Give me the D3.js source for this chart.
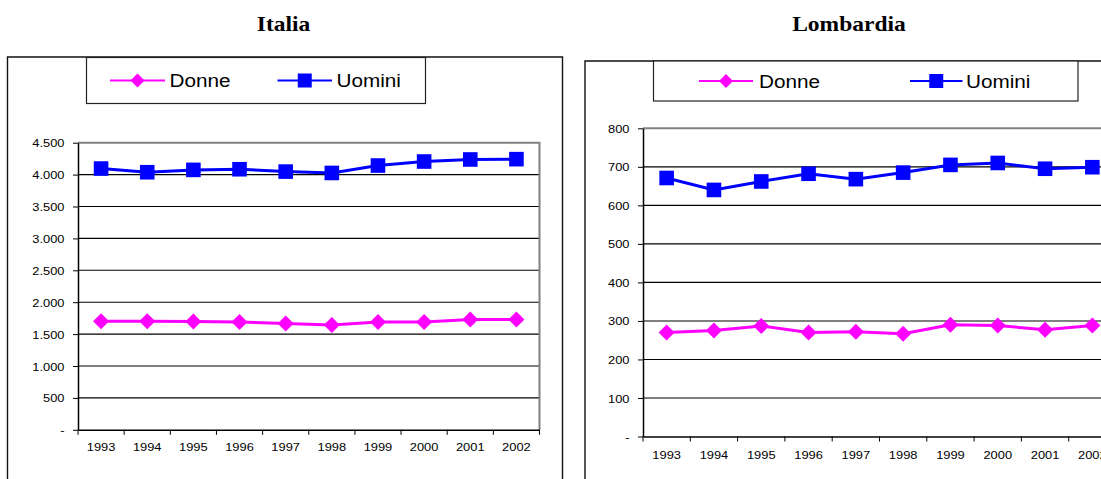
<!DOCTYPE html>
<html>
<head>
<meta charset="utf-8">
<script src="https://cdn.jsdelivr.net/npm/d3@7"></script>
<style>
  html, body { margin: 0; padding: 0; background: #fff; }
  svg { display: block; }
</style>
</head>
<body>
<svg id="chart" width="1101" height="479"></svg>
<script>
// Anni sull'asse orizzontale
const years = ["1993", "1994", "1995", "1996", "1997", "1998", "1999", "2000", "2001", "2002"];
const seriesNames = ["Donne", "Uomini"];
const panelTitles = ["Italia", "Lombardia"];

// Italia
const italiaDonne  = [1703, 1703, 1698, 1688, 1667, 1641, 1688, 1688, 1729, 1729];
const italiaUomini = [4095, 4037, 4074, 4084, 4047, 4026, 4142, 4205, 4237, 4242];
const italiaTicks  = [0, 500, 1000, 1500, 2000, 2500, 3000, 3500, 4000, 4500];

// Lombardia
const lombardiaDonne  = [270, 275, 287, 270, 272, 267, 290, 288, 277, 288];
const lombardiaUomini = [671, 640, 662, 682, 668, 685, 705, 710, 695, 699];
const lombardiaTicks  = [0, 100, 200, 300, 400, 500, 600, 700, 800];

const COL_DONNE = "#ff00ff";
const COL_UOMINI = "#0000ff";
const SANS = "'Liberation Sans', Arial, sans-serif";
const SERIF = "'Liberation Serif', 'Times New Roman', serif";
const STRETCH = 1.12;

// Formato italiano: punto per le migliaia, zero come trattino
const itLocale = d3.formatLocale({ decimal: ",", thousands: ".", grouping: [3], currency: ["€", ""] });
const fmtNum = itLocale.format(",d");
const fmtTick = v => v === 0 ? "-" : fmtNum(v);

const svg = d3.select("#chart");

function diamond(g, cx, cy, r, color) {
  g.append("path")
    .attr("d", `M${cx},${cy - r}L${cx + r},${cy}L${cx},${cy + r}L${cx - r},${cy}Z`)
    .attr("fill", color);
}
function square(g, cx, cy, h, color) {
  g.append("rect")
    .attr("x", cx - h).attr("y", cy - h)
    .attr("width", 2 * h).attr("height", 2 * h)
    .attr("fill", color);
}

function drawPanel(cfg) {
  const g = svg.append("g");

  // titolo
  g.append("text")
    .attr("transform", `translate(${cfg.titleX},${cfg.titleY}) scale(${STRETCH},1)`)
    .attr("text-anchor", "middle")
    .attr("font-family", SERIF)
    .attr("font-weight", "bold")
    .attr("font-size", 21)
    .attr("fill", "#000")
    .text(cfg.title);

  // cornice del grafico (aperta in basso)
  const f = cfg.frame;
  g.append("path")
    .attr("d", `M${f.x},${f.y + 600}L${f.x},${f.y}L${f.x + f.w},${f.y}L${f.x + f.w},${f.y + 600}`)
    .attr("fill", "none")
    .attr("stroke", "#111")
    .attr("stroke-width", 1.4);

  const x = d3.scaleBand().domain(years).range([cfg.x0, cfg.x1]);
  const y = d3.scaleLinear().domain([0, d3.max(cfg.ticks)]).range([cfg.yBottom, cfg.yTop]);

  // griglia orizzontale
  g.append("g").selectAll("line")
    .data(cfg.ticks.filter(t => t > 0 && t < d3.max(cfg.ticks)))
    .join("line")
    .attr("x1", cfg.x0).attr("x2", cfg.x1)
    .attr("y1", d => y(d)).attr("y2", d => y(d))
    .attr("stroke", "#000").attr("stroke-width", 1.1);

  // bordo dell'area del tracciato
  g.append("path")
    .attr("d", `M${cfg.x0},${y(d3.max(cfg.ticks))}L${cfg.x1},${y(d3.max(cfg.ticks))}L${cfg.x1},${cfg.yBottom}`)
    .attr("fill", "none")
    .attr("stroke", "#808080")
    .attr("stroke-width", 2);

  // asse verticale
  const yAxis = g.append("g")
    .attr("transform", `translate(${cfg.x0},0)`)
    .call(d3.axisLeft(y).tickValues(cfg.ticks).tickFormat(fmtTick).tickSize(5).tickSizeOuter(0));
  yAxis.select(".domain").attr("stroke", "#000").attr("stroke-width", 1.5);
  yAxis.selectAll(".tick line").attr("stroke", "#000").attr("stroke-width", 1);
  yAxis.selectAll(".tick text")
    .attr("x", null).attr("dy", "0.35em")
    .attr("transform", `translate(-13.5,0) scale(${STRETCH},1)`)
    .attr("font-family", SANS).attr("font-size", 11.5).attr("fill", "#000");

  // asse orizzontale
  const xAxis = g.append("g")
    .attr("transform", `translate(0,${cfg.yBottom})`)
    .call(d3.axisBottom(x).tickSize(0).tickPadding(0).tickSizeOuter(0));
  xAxis.select(".domain").attr("stroke", "#000").attr("stroke-width", 1.5);
  xAxis.selectAll(".tick text")
    .attr("y", null).attr("dy", null)
    .attr("transform", `translate(0,${cfg.xLabelDy}) scale(${STRETCH},1)`)
    .attr("font-family", SANS).attr("font-size", 11.5).attr("fill", "#000");
  // tacche tra le categorie
  xAxis.append("g").selectAll("line")
    .data(d3.range(years.length + 1))
    .join("line")
    .attr("x1", i => cfg.x0 + i * x.step()).attr("x2", i => cfg.x0 + i * x.step())
    .attr("y1", 0).attr("y2", 5)
    .attr("stroke", "#000").attr("stroke-width", 1);

  const cx = d => x(d) + x.bandwidth() / 2;
  const line = d3.line().x((d, i) => cx(years[i])).y(d => y(d));

  // serie Uomini
  g.append("path").datum(cfg.uomini)
    .attr("d", line).attr("fill", "none")
    .attr("stroke", COL_UOMINI).attr("stroke-width", 3);
  cfg.uomini.forEach((v, i) => square(g, cx(years[i]), y(v), 7.3, COL_UOMINI));

  // serie Donne
  g.append("path").datum(cfg.donne)
    .attr("d", line).attr("fill", "none")
    .attr("stroke", COL_DONNE).attr("stroke-width", 3);
  cfg.donne.forEach((v, i) => diamond(g, cx(years[i]), y(v), 8, COL_DONNE));

  // legenda
  const L = cfg.legend;
  const lg = g.append("g");
  lg.append("rect")
    .attr("x", L.x).attr("y", L.y).attr("width", L.w).attr("height", L.h)
    .attr("fill", "#fff").attr("stroke", "#222").attr("stroke-width", 1.2);
  const ly = L.y + L.h / 2;
  const items = [
    { name: seriesNames[0], color: COL_DONNE, x1: L.d1, x2: L.d2, tx: L.dt, mark: "d" },
    { name: seriesNames[1], color: COL_UOMINI, x1: L.u1, x2: L.u2, tx: L.ut, mark: "s" }
  ];
  items.forEach(it => {
    lg.append("line")
      .attr("x1", L.x + it.x1).attr("x2", L.x + it.x2)
      .attr("y1", ly).attr("y2", ly)
      .attr("stroke", it.color).attr("stroke-width", 2.2);
    const mx = L.x + (it.x1 + it.x2) / 2;
    if (it.mark === "d") diamond(lg, mx, ly, 7, it.color);
    else square(lg, mx, ly, 7, it.color);
    lg.append("text")
      .attr("transform", `translate(${L.x + it.tx},${ly + 6.8}) scale(${STRETCH},1)`)
      .attr("font-family", SANS).attr("font-size", 18.5).attr("fill", "#000")
      .text(it.name);
  });
}

drawPanel({
  title: panelTitles[0], titleX: 283.5, titleY: 31,
  frame: { x: 7.5, y: 57, w: 555 },
  x0: 78, x1: 539.5, yTop: 142.7, yBottom: 429.8, xLabelDy: 21,
  ticks: italiaTicks, donne: italiaDonne, uomini: italiaUomini,
  legend: { x: 86.5, y: 57.5, w: 339, h: 46, d1: 23.5, d2: 78.5, dt: 83, u1: 191, u2: 245.5, ut: 250 }
});

drawPanel({
  title: panelTitles[1], titleX: 849, titleY: 31,
  frame: { x: 585, y: 61, w: 600 },
  x0: 643, x1: 1116, yTop: 128.3, yBottom: 436.5, xLabelDy: 22.5,
  ticks: lombardiaTicks, donne: lombardiaDonne, uomini: lombardiaUomini,
  legend: { x: 653.5, y: 61, w: 424.5, h: 40, d1: 45.5, d2: 99.5, dt: 105.5, u1: 256.5, u2: 309, ut: 312.5 }
});
</script>
</body>
</html>
